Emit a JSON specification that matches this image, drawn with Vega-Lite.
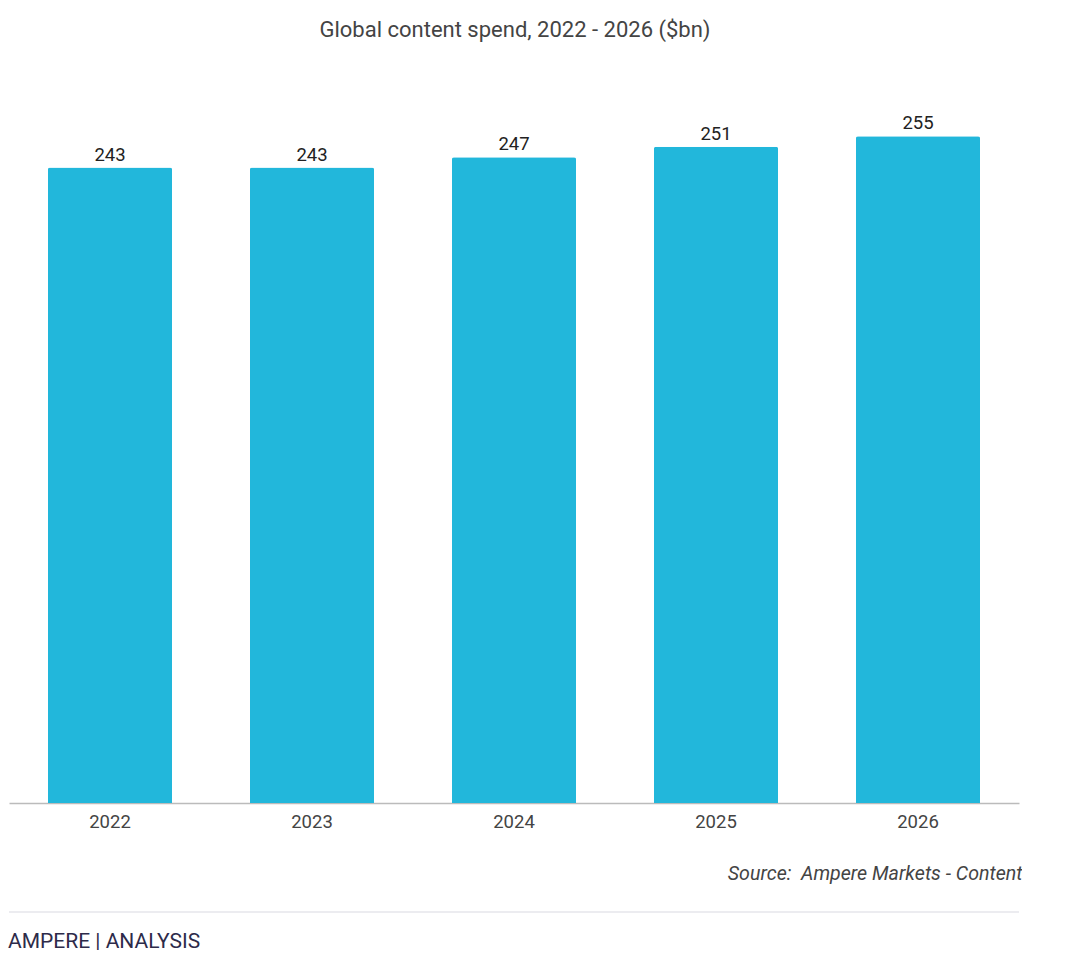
{
  "$schema": "https://vega.github.io/schema/vega-lite/v6.json",
  "padding": {"left": 8, "top": 19, "right": 0, "bottom": 0},
  "background": "white",
  "config": {
    "font": "Roboto",
    "view": {"stroke": null}
  },
  "title": {
    "text": "Global content spend, 2022 - 2026 ($bn)",
    "anchor": "middle",
    "fontSize": 22,
    "fontWeight": "normal",
    "color": "#444444",
    "offset": 55
  },
  "spacing": 27,
  "vconcat": [
    {
      "width": 1010,
      "height": 706,
      "data": {
        "values": [
          {"year": "2022", "spend": 243},
          {"year": "2023", "spend": 243},
          {"year": "2024", "spend": 247},
          {"year": "2025", "spend": 251},
          {"year": "2026", "spend": 255}
        ]
      },
      "encoding": {
        "x": {
          "field": "year",
          "type": "ordinal",
          "scale": {"paddingInner": 0.386, "paddingOuter": 0.193},
          "axis": {
            "title": "Source:\u00a0 Ampere Markets - Content",
            "titleFontStyle": "italic",
            "titleFontWeight": "normal",
            "titleFontSize": 19.6,
            "titleColor": "#444444",
            "titleAlign": "right",
            "titleX": 1013,
            "titlePadding": 34,
            "labelAngle": 0,
            "labelFontSize": 18.5,
            "labelColor": "#444444",
            "labelPadding": 9,
            "ticks": false,
            "domainColor": "#bbbbbb",
            "domainWidth": 1.5,
            "grid": false
          }
        },
        "y": {
          "field": "spend",
          "type": "quantitative",
          "scale": {"domain": [0, 270], "nice": false},
          "axis": null
        }
      },
      "layer": [
        {
          "mark": {"type": "bar", "color": "#22b7db", "cornerRadiusTopLeft": 2, "cornerRadiusTopRight": 2}
        },
        {
          "mark": {"type": "text", "baseline": "bottom", "dy": -3, "fontSize": 18.5, "color": "#222222"},
          "encoding": {"text": {"field": "spend", "type": "quantitative"}}
        }
      ]
    },
    {
      "width": 1010,
      "height": 1,
      "data": {"values": [{"v": 1}]},
      "title": {
        "text": "AMPERE | ANALYSIS",
        "orient": "bottom",
        "anchor": "start",
        "fontSize": 21,
        "fontWeight": "normal",
        "color": "#2d2b4a",
        "offset": 18
      },
      "mark": {"type": "rule", "color": "#ececf0", "strokeWidth": 2},
      "encoding": {
        "y": {"field": "v", "type": "quantitative", "scale": {"domain": [0, 1]}, "axis": null}
      }
    }
  ]
}
